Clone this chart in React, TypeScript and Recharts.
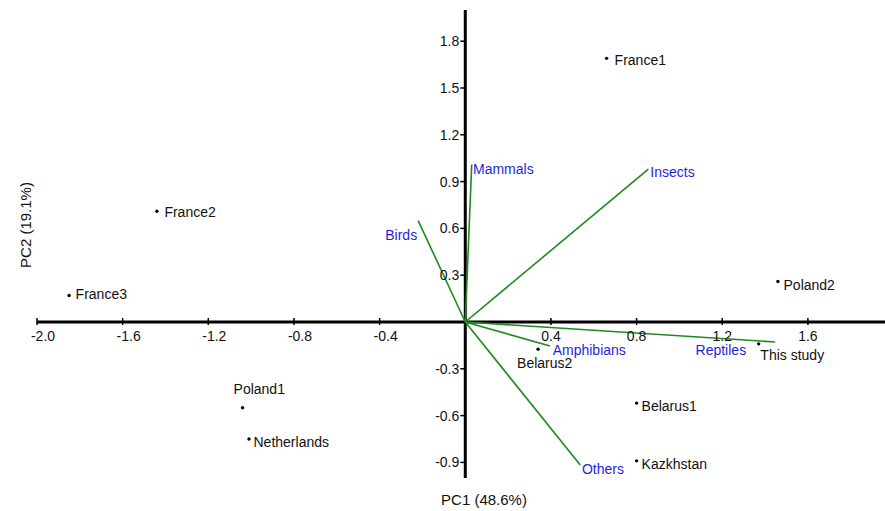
import React from 'react';
import { ScatterChart, Scatter, XAxis, YAxis, ReferenceLine } from 'recharts';

// sampling sites (PCA scores)
const siteNames = ['France1', 'France2', 'France3', 'Poland1', 'Netherlands', 'Belarus1', 'Kazkhstan', 'Belarus2', 'This study', 'Poland2'];
const sitePc1 = [0.66, -1.44, -1.85, -1.04, -1.01, 0.80, 0.80, 0.34, 1.37, 1.46];
const sitePc2 = [1.69, 0.71, 0.17, -0.55, -0.75, -0.52, -0.89, -0.175, -0.14, 0.26];

// prey category loadings (vectors)
const preyNames = ['Mammals', 'Insects', 'Birds', 'Amphibians', 'Reptiles', 'Others'];
const preyPc1 = [0.03, 0.855, -0.22, 0.396, 1.447, 0.537];
const preyPc2 = [1.01, 0.98, 0.65, -0.154, -0.128, -0.917];

const xTicks = [-2.0, -1.6, -1.2, -0.8, -0.4, 0.4, 0.8, 1.2, 1.6];
const yTicks = [1.8, 1.5, 1.2, 0.9, 0.6, 0.3, -0.3, -0.6, -0.9];

const FONT = 'Arial, "Liberation Sans", sans-serif';
const GREEN = '#1f8a1f';
const BLUE = '#1f1fe0';

// label offsets relative to the marker
const siteLabelPos: Record<string, { dx: number; dy: number; anchor?: string }> = {
    'France1': { dx: 8, dy: 6.5 },
    'France2': { dx: 7.5, dy: 5.5 },
    'France3': { dx: 6.5, dy: 4 },
    'Poland1': { dx: -9, dy: -14 },
    'Netherlands': { dx: 4.5, dy: 8.4 },
    'Belarus1': { dx: 5, dy: 7.7 },
    'Kazkhstan': { dx: 5, dy: 8.6 },
    'Belarus2': { dx: -21, dy: 18.4 },
    'This study': { dx: 1.7, dy: 15.7 },
    'Poland2': { dx: 5.6, dy: 8.3 },
};

const preyLabelPos: Record<string, { dx: number; dy: number; anchor?: string }> = {
    'Mammals': { dx: 1.3, dy: 10 },
    'Insects': { dx: 2, dy: 8.3 },
    'Birds': { dx: -1, dy: 19.3, anchor: 'end' },
    'Amphibians': { dx: 2.6, dy: 8.5 },
    'Reptiles': { dx: -29, dy: 13.5, anchor: 'end' },
    'Others': { dx: 1.7, dy: 9.3 },
};

const siteData = siteNames.map((name, i) => ({ name, x: sitePc1[i], y: sitePc2[i] }));
const preyData = preyNames.map((name, i) => ({ name, x: preyPc1[i], y: preyPc2[i] }));
const xTickData = xTicks.map(v => ({ x: v, y: 0 }));
const yTickData = yTicks.map(v => ({ x: 0, y: v }));

const SiteShape = (props: any) => {
    const { cx, cy, payload } = props;
    const pos = siteLabelPos[payload.name] || { dx: 6, dy: 5 };
    return (
        <g>
            <circle cx={cx} cy={cy} r={1.7} fill="#000" />
            <text x={cx + pos.dx} y={cy + pos.dy} textAnchor={pos.anchor || 'start'} fontSize={14} fontFamily={FONT} fill="#111">
                {payload.name}
            </text>
        </g>
    );
};

const PreyLabel = (props: any) => {
    const { cx, cy, payload } = props;
    const pos = preyLabelPos[payload.name];
    return (
        <text x={cx + pos.dx} y={cy + pos.dy} textAnchor={pos.anchor || 'start'} fontSize={14} fontFamily={FONT} fill={BLUE}>
            {payload.name}
        </text>
    );
};

const XTick = (props: any) => {
    const { cx, cy, payload } = props;
    return (
        <g>
            <line x1={cx} x2={cx} y1={cy - 4} y2={cy + 3} stroke="#000" strokeWidth={1.5} />
            <text x={cx + (payload.x < 0 ? 6 : 0)} y={cy + 19} textAnchor="middle" fontSize={14} fontFamily={FONT} fill="#111">
                {payload.x.toFixed(1)}
            </text>
        </g>
    );
};

const YTick = (props: any) => {
    const { cx, cy, payload } = props;
    return (
        <g>
            <line x1={cx - 5} x2={cx} y1={cy} y2={cy} stroke="#000" strokeWidth={1.5} />
            <text x={cx - 6} y={cy + 5} textAnchor="end" fontSize={14} fontFamily={FONT} fill="#111">
                {payload.y.toFixed(1)}
            </text>
        </g>
    );
};

export default function App() {
    return (
        <div style={{ position: 'absolute', left: 0, top: 0, width: 885, height: 511, background: '#fff' }}>
            <ScatterChart width={885} height={511} margin={{ top: 10, right: 0, left: 37, bottom: 33 }}>
                <XAxis type="number" dataKey="x" domain={[-2.0, 1.96]} hide />
                <YAxis type="number" dataKey="y" domain={[-1.0, 2.0]} hide />
                <ReferenceLine y={0} stroke="#000" strokeWidth={3} />
                <ReferenceLine x={0} stroke="#000" strokeWidth={3} />
                {preyData.map(p => (
                    <ReferenceLine
                        key={p.name}
                        segment={[{ x: 0, y: 0 }, { x: p.x, y: p.y }]}
                        stroke={GREEN}
                        strokeWidth={1.6}
                    />
                ))}
                <Scatter data={xTickData} shape={XTick} isAnimationActive={false} />
                <Scatter data={yTickData} shape={YTick} isAnimationActive={false} />
                <Scatter data={preyData} shape={PreyLabel} isAnimationActive={false} />
                <Scatter data={siteData} shape={SiteShape} isAnimationActive={false} />
            </ScatterChart>
            <div style={{ position: 'absolute', left: 0, width: 968, top: 491, textAlign: 'center', fontFamily: FONT, fontSize: 15, color: '#111', lineHeight: '18px' }}>
                PC1 (48.6%)
            </div>
            <div style={{ position: 'absolute', left: 25, top: 225, transform: 'translate(-50%, -50%) rotate(-90deg)', whiteSpace: 'nowrap', fontFamily: FONT, fontSize: 15, color: '#111' }}>
                PC2 (19.1%)
            </div>
        </div>
    );
}
